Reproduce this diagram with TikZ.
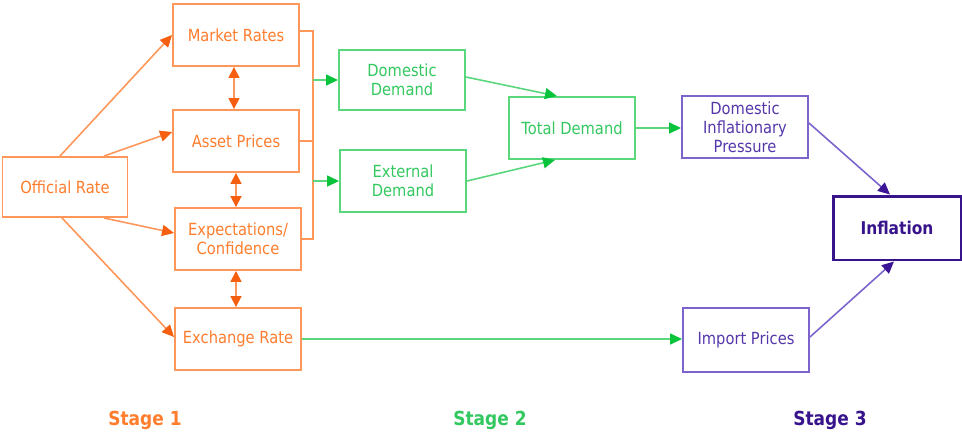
\documentclass[tikz,border=0pt]{standalone}
\usepackage{fontspec}
\setmainfont{DejaVu Sans}[FakeStretch=0.88]
\usetikzlibrary{arrows.meta}

\definecolor{orgline}{RGB}{255,150,90}
\definecolor{orgtip}{RGB}{245,95,15}
\definecolor{orgtext}{RGB}{255,125,45}
\definecolor{grnline}{RGB}{90,215,125}
\definecolor{grntip}{RGB}{10,195,60}
\definecolor{grntext}{RGB}{50,200,95}
\definecolor{purline}{RGB}{125,100,205}
\definecolor{purtip}{RGB}{60,20,150}
\definecolor{purtext}{RGB}{85,55,170}
\definecolor{purdark}{RGB}{55,20,140}

\newcommand{\boxfont}{\fontsize{9.5}{10.8}\selectfont}

\tikzset{
  stagebox/.style={minimum width=2.52cm, minimum height=1.24cm, align=center,
    inner sep=1pt, line width=1.1pt, font=\boxfont},
  obox/.style={stagebox, draw=orgline, text=orgtext},
  gbox/.style={stagebox, draw=grnline, text=grntext},
  pbox/.style={stagebox, draw=purline, text=purtext},
  oarr/.style={draw=orgline, line width=0.9pt, -{Triangle[length=0.24cm,width=0.22cm,color=orgtip]}},
  odbl/.style={draw=orgline, line width=0.9pt, {Triangle[length=0.22cm,width=0.22cm,color=orgtip]}-{Triangle[length=0.22cm,width=0.22cm,color=orgtip]}},
  garr/.style={draw=grnline, line width=0.9pt, -{Triangle[length=0.24cm,width=0.22cm,color=grntip]}},
  parr/.style={draw=purline, line width=0.9pt, -{Triangle[length=0.24cm,width=0.22cm,color=purtip]}},
  stage/.style={font=\fontsize{11}{13}\selectfont\bfseries}
}

\begin{document}
\begin{tikzpicture}[x=0.02cm,y=-0.02cm]
    \useasboundingbox (0,0) rectangle (962,434);

    % stage 1
    \node[obox, minimum width=2.5cm, minimum height=1.2cm] (off) at (65,187) {Official Rate};
    \node[obox] (mr) at (236,35) {Market Rates};
    \node[obox] (ap) at (236,141) {Asset Prices};
    \node[obox] (exp) at (238,239) {Expectations/\\Confidence};
    \node[obox] (xr) at (238,339) {Exchange Rate};

    % stage 2
    \node[gbox, minimum height=1.2cm] (dd) at (402,80) {Domestic\\Demand};
    \node[gbox] (ed) at (403,181) {External\\Demand};
    \node[gbox] (td) at (572,128) {Total Demand};

    % stage 3
    \node[pbox] (dip) at (745,127) {Domestic\\Inflationary\\Pressure};
    \node[pbox, minimum height=1.28cm] (imp) at (746,340) {Import Prices};
    \node[stagebox, draw=purdark, text=purdark, line width=1.7pt, minimum width=2.56cm,
          minimum height=1.28cm, font=\fontsize{10}{12}\selectfont\bfseries] (inf) at (897,228) {Inflation};

    \draw[oarr] ([xshift=-0.1cm]off.north) -- (mr.west);
    \draw[oarr] ([xshift=0.78cm]off.north) -- ([yshift=0.18cm]ap.west);
    \draw[oarr] ([xshift=0.78cm]off.south) -- ([yshift=0.12cm]exp.west);
    \draw[oarr] ([xshift=-0.06cm]off.south) -- ([yshift=0.04cm]xr.west);

    \draw[odbl] ([xshift=-0.04cm]mr.south) -- ([xshift=-0.04cm]ap.north);
    \draw[odbl] (ap.south) -- ([xshift=-0.04cm]exp.north);
    \draw[odbl] ([xshift=-0.04cm]exp.south) -- ([xshift=-0.04cm]xr.north);

    % channels joining into one line
    \coordinate (bus) at (313,0);
    \draw[orgline, line width=0.9pt] ([yshift=0.08cm]mr.east) -| (bus |- exp.east) -- (exp.east);
    \draw[orgline, line width=0.9pt] (ap.east) -- (bus |- ap.east);
    \draw[garr] (bus |- dd.west) -- (dd.west);
    \draw[garr] (bus |- ed.west) -- (ed.west);

    \draw[garr] ([yshift=0.06cm]dd.east) -- ([xshift=-0.3cm]td.north);
    \draw[garr] (ed.east) -- ([xshift=-0.34cm]td.south);
    \draw[garr] (td.east) -- (td.east -| dip.west);
    \draw[garr] (xr.east) -- (xr.east -| imp.west);

    \draw[parr] ([yshift=0.08cm]dip.east) -- ([xshift=-0.14cm]inf.north);
    \draw[parr] ([yshift=0.06cm]imp.east) -- ([xshift=-0.06cm]inf.south);

    \node[stage, text=orgtext] (st1) at (145,420) {Stage 1};
    \node[stage, text=grntext] (st2) at (490,420) {Stage 2};
    \node[stage, text=purdark] (st3) at (830,420) {Stage 3};
\end{tikzpicture}
\end{document}
